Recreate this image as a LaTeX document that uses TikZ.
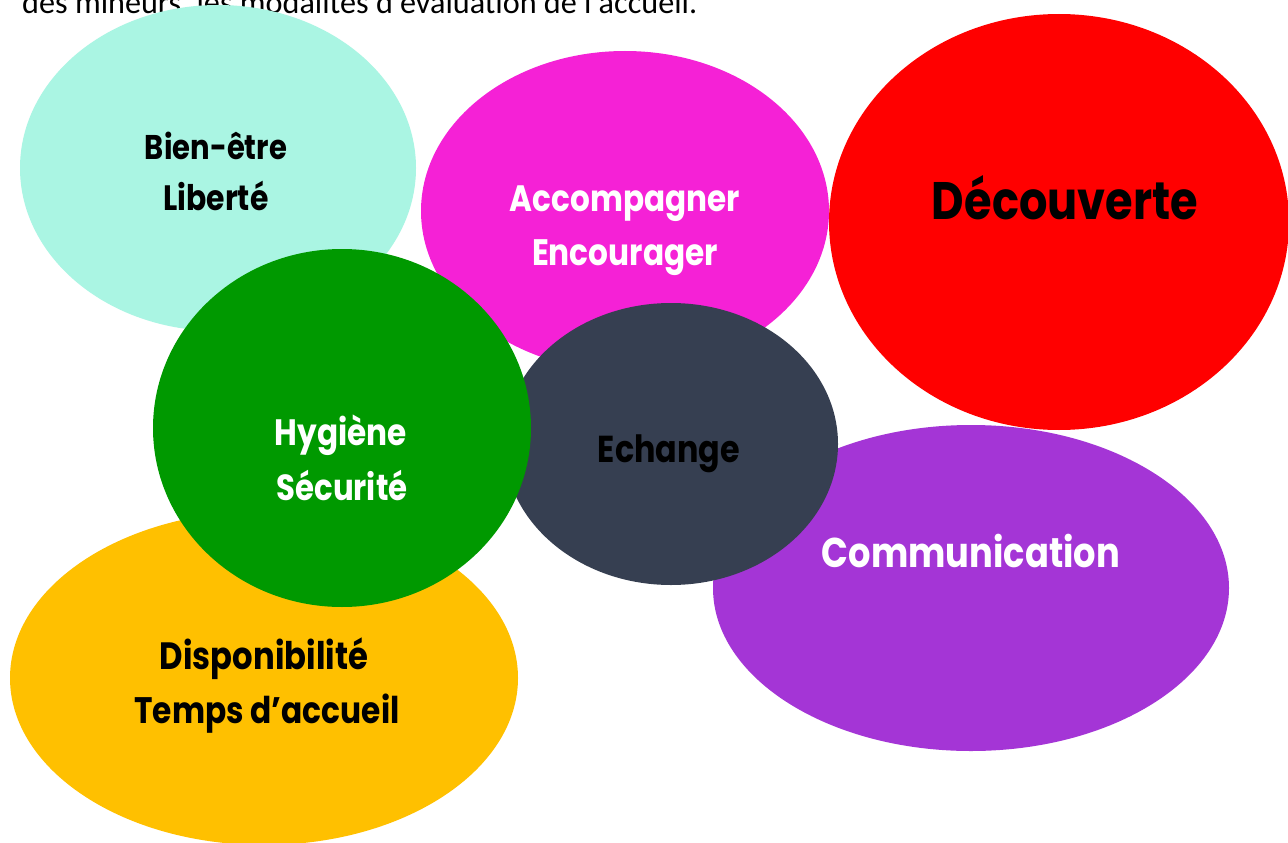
\documentclass[tikz,border=0pt]{standalone}
\usepackage{fontspec}
\usetikzlibrary{shapes.geometric}
\newfontfamily\labfont{Poppins}
\newfontfamily\topfont{Carlito}
\definecolor{cmint}{HTML}{AAF5E3}
\definecolor{cpink}{HTML}{F521D6}
\definecolor{cred}{HTML}{FF0000}
\definecolor{cgreen}{HTML}{009900}
\definecolor{cdark}{HTML}{363F51}
\definecolor{cpurple}{HTML}{A435D6}
\definecolor{cyellow}{HTML}{FFC000}
\newcommand\fitw[2]{\resizebox{#1pt}{!}{\scalebox{1}[1.18]{\labfont\bfseries #2}}}
\tikzset{
  blob/.style={ellipse, draw=none, inner sep=0pt},
  lbl/.style={anchor=base, inner sep=0pt, outer sep=0pt},
}
\begin{document}
\begin{tikzpicture}[x=1pt,y=-1pt]
\useasboundingbox (0,0) rectangle (1288,843);
\clip (0,0) rectangle (1288,843);
\fill[white] (0,0) rectangle (1288,843);
\node[anchor=base west, inner sep=0pt] (top) at (22,14) {\resizebox{675pt}{!}{\topfont des mineurs, les modalités d'évaluation de l'accueil.}};
% ellipses
\node[blob, fill=cmint, minimum width=396pt, minimum height=326pt] (e1) at (218,168) {};
\node[blob, fill=cpink, minimum width=408pt, minimum height=320pt] (e2) at (625,211) {};
\node[blob, fill=cred, minimum width=460pt, minimum height=416pt] (e3) at (1059,222) {};
\node[blob, fill=cyellow, minimum width=508pt, minimum height=334pt] (e4) at (264,678) {};
\node[blob, fill=cpurple, minimum width=516pt, minimum height=326pt] (e5) at (971,588) {};
\node[blob, fill=cdark, minimum width=334pt, minimum height=282pt] (e6) at (671,444) {};
\node[blob, fill=cgreen, minimum width=378pt, minimum height=358pt] (e7) at (342,428) {};
% labels
\node[lbl] (t1a) at (216,159) {\fitw{142}{Bien-être}};
\node[lbl] (t1b) at (216,210) {\fitw{105}{Liberté}};
\node[lbl, text=white] (t2a) at (625,211) {\fitw{230}{Accompagner}};
\node[lbl, text=white] (t2b) at (625,265) {\fitw{186}{Encourager}};
\node[lbl] (t3) at (1065,219) {\fitw{266}{Découverte}};
\node[lbl, text=white] (t7a) at (341,445) {\fitw{132}{Hygiène}};
\node[lbl, text=white] (t7b) at (342,500) {\fitw{131}{Sécurité}};
\node[lbl] (t6) at (669,462) {\fitw{142}{Echange}};
\node[lbl, text=white] (t5) at (971,567) {\fitw{298}{Communication}};
\node[lbl] (t4a) at (264,669) {\fitw{208}{Disponibilité}};
\node[lbl] (t4b) at (267,723) {\fitw{265}{Temps d’accueil}};
\end{tikzpicture}
\end{document}
